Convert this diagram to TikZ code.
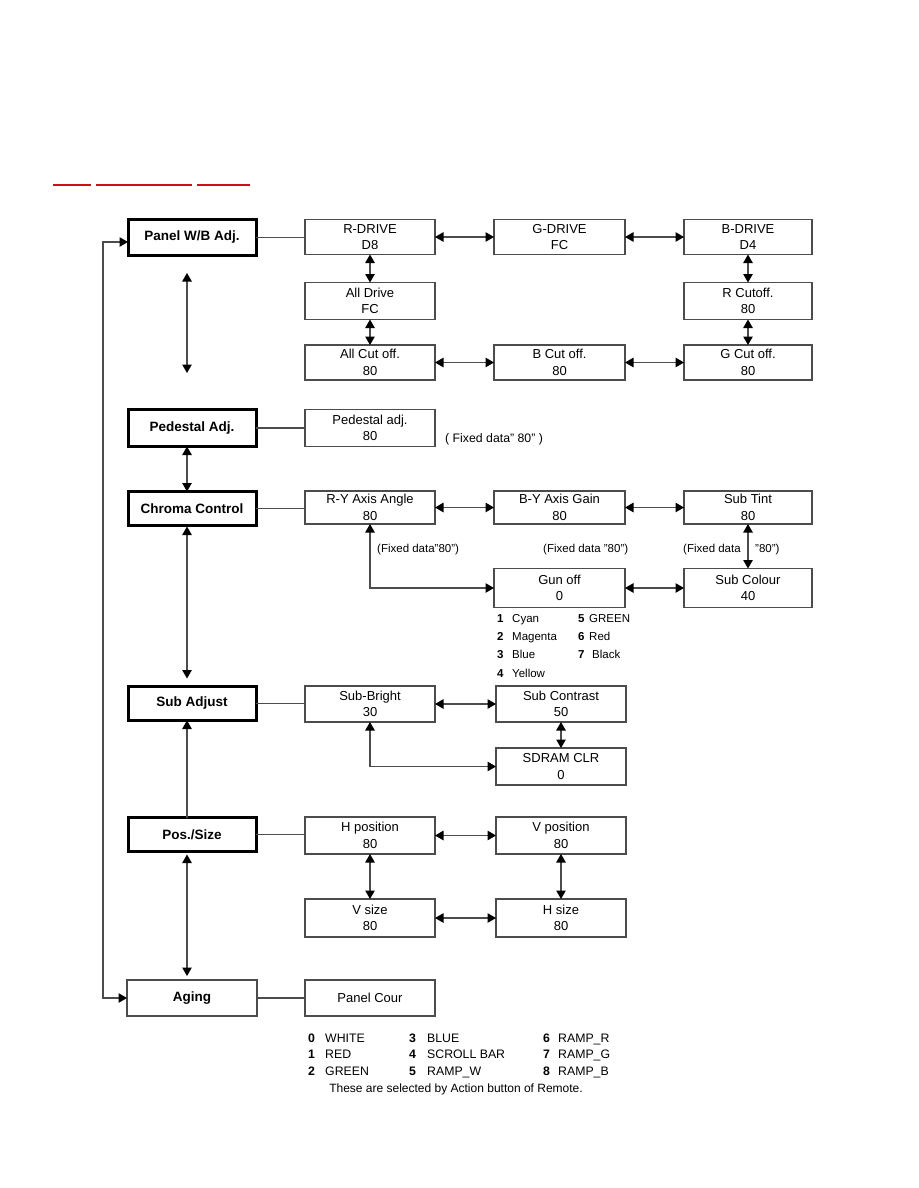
\documentclass[tikz,border=0pt]{standalone}
\usepackage{fontspec}
\setmainfont{Liberation Sans}
\usetikzlibrary{arrows.meta}
\tikzset{
  box/.style={draw=black!70, line width=1.1pt, inner sep=0pt, outer sep=0pt, align=center,
    font=\fontsize{13}{16.5}\selectfont, minimum width=130pt, minimum height=36pt},
  mbox/.style={box, draw=black, line width=3pt, font=\fontsize{13.5}{16}\selectfont\bfseries,
    minimum width=128pt},
  link/.style={draw=black!70, line width=1.1pt},
  tip/.tip={Triangle[length=8.5pt,width=9.5pt,color=black]},
  darr/.style={link, tip-tip},
  sarr/.style={link, -tip},
  note/.style={anchor=base west, inner sep=0pt, font=\fontsize{11.5}{13}\selectfont},
  lst/.style={anchor=base west, inner sep=0pt, font=\fontsize{11.5}{13}\selectfont},
  lstn/.style={lst, font=\fontsize{11.5}{13}\selectfont\bfseries},
  leg/.style={anchor=base west, inner sep=0pt, font=\fontsize{12.3}{14}\selectfont},
  legn/.style={leg, font=\fontsize{12.3}{14}\selectfont\bfseries},
  redline/.style={draw={rgb,255:red,200;green,20;blue,20}, line width=1.3pt}
}
\begin{document}
\begin{tikzpicture}[x=1pt,y=-1pt]
\fill[white] (0,0) rectangle (918,1188);
\useasboundingbox (0,0) rectangle (918,1188);

% red underlines
\coordinate (u1a) at (53,185); \coordinate (u1b) at (91,185);
\coordinate (u2a) at (96,185); \coordinate (u2b) at (192,185);
\coordinate (u3a) at (197,185); \coordinate (u3b) at (250,185);
\draw[redline] (u1a) -- (u1b);
\draw[redline] (u2a) -- (u2b);
\draw[redline] (u3a) -- (u3b);

% ---- Panel W/B
\node[mbox, minimum height=36pt] (panel) at (192,237.5) {Panel W/B Adj.};
\node[box, minimum height=35pt] (rdrive) at (370,237) {R-DRIVE\\D8};
\node[box, minimum height=35pt, minimum width=131pt] (gdrive) at (559.5,237) {G-DRIVE\\FC};
\node[box, minimum height=35pt, minimum width=128pt] (bdrive) at (748,237) {B-DRIVE\\D4};
\node[box, minimum height=37pt] (alldrive) at (370,301) {All Drive\\FC};
\node[box, minimum height=37pt, minimum width=128pt] (rcut) at (748,301) {R Cutoff.\\80};
\node[box, minimum height=35pt] (allcut) at (370,362.5) {All Cut off.\\80};
\node[box, minimum height=35pt, minimum width=131pt] (bcut) at (559.5,362.5) {B Cut off.\\80};
\node[box, minimum height=35pt, minimum width=128pt] (gcut) at (748,362.5) {G Cut off.\\80};

\draw[link] (panel.east) -- (panel.east -| rdrive.west);
\draw[darr] (rdrive) -- (gdrive);
\draw[darr] (gdrive) -- (bdrive);
\draw[darr] (rdrive) -- (alldrive);
\draw[darr] (alldrive) -- (allcut);
\draw[darr] (bdrive) -- (rcut);
\draw[darr] (rcut) -- (gcut);
\draw[darr] (allcut) -- (bcut);
\draw[darr] (bcut) -- (gcut);

\coordinate (f1) at (187,273); \coordinate (f2) at (187,373);
\draw[darr] (f1) -- (f2);

% ---- Pedestal
\node[mbox, minimum height=37pt] (ped) at (192,428) {Pedestal Adj.};
\node[box, minimum height=37pt] (pedadj) at (370,428) {Pedestal adj.\\80};
\draw[link] (ped.east) -- (ped.east -| pedadj.west);
\node[note, font=\fontsize{12.3}{14}\selectfont] (fix0) at (445,442.5) {( Fixed data" 80" )};

% ---- Chroma
\node[mbox, minimum height=34pt] (chroma) at (192,508.5) {Chroma Control};
\node[box, minimum height=33pt] (ry) at (370,507.5) {R-Y Axis Angle\\80};
\node[box, minimum height=33pt, minimum width=131pt] (by) at (559.5,507.5) {B-Y Axis Gain\\80};
\node[box, minimum height=33pt, minimum width=128pt] (tint) at (748,507.5) {Sub Tint\\80};
\node[box, minimum height=39pt, minimum width=131pt] (gun) at (559.5,588) {Gun off\\0};
\node[box, minimum height=39pt, minimum width=128pt] (colour) at (748,588) {Sub Colour\\40};
\draw[link] (chroma.east) -- (chroma.east -| ry.west);
\draw[darr] (ry) -- (by);
\draw[darr] (by) -- (tint);
\draw[darr] (tint) -- (colour);
\draw[darr] (gun) -- (colour);
\draw[darr] (ry.south) |- (gun.west);
\draw[darr] ([xshift=-5pt]ped.south) -- ([xshift=-5pt]chroma.north);

\node[note] (fix1) at (377,552) {(Fixed data"80")};
\node[note] (fix2) at (543,552) {(Fixed data "80")};
\node[note] (fix3) at (683,552) {(Fixed data};
\node[note] (fix4) at (755,552) {"80")};

\node[lstn] (g1n) at (497,622) {1}; \node[lst] (g1) at (512,622) {Cyan};
\node[lstn] (g2n) at (497,640) {2}; \node[lst] (g2) at (512,640) {Magenta};
\node[lstn] (g3n) at (497,658) {3}; \node[lst] (g3) at (512,658) {Blue};
\node[lstn] (g4n) at (497,677) {4}; \node[lst] (g4) at (512,677) {Yellow};
\node[lstn] (g5n) at (578,622) {5}; \node[lst] (g5) at (589,622) {GREEN};
\node[lstn] (g6n) at (578,640) {6}; \node[lst] (g6) at (589,640) {Red};
\node[lstn] (g7n) at (578,658) {7}; \node[lst] (g7) at (592,658) {Black};

% ---- Sub Adjust
\node[mbox, minimum height=34pt] (subadj) at (192,703.5) {Sub Adjust};
\node[box, minimum height=36pt] (bright) at (370,704) {Sub-Bright\\30};
\node[box, minimum height=36pt] (contrast) at (561,704) {Sub Contrast\\50};
\node[box, minimum height=37pt] (sdram) at (561,766.5) {SDRAM CLR\\0};
\draw[link] (subadj.east) -- (subadj.east -| bright.west);
\draw[darr] (bright) -- (contrast);
\draw[darr] (contrast) -- (sdram);
\draw[darr] (bright.south) |- (sdram.west);
\draw[darr, shorten <=1pt, shorten >=8pt] ([xshift=-5pt]chroma.south) -- ([xshift=-5pt]subadj.north);

% ---- Pos./Size
\node[mbox, minimum height=34pt] (pos) at (192,834.5) {Pos./Size};
\node[box, minimum height=37pt] (hpos) at (370,835.5) {H position\\80};
\node[box, minimum height=37pt] (vpos) at (561,835.5) {V position\\80};
\node[box, minimum height=38pt] (vsize) at (370,918) {V size\\80};
\node[box, minimum height=38pt] (hsize) at (561,918) {H size\\80};
\draw[link] (pos.east) -- (pos.east -| hpos.west);
\draw[darr] (hpos) -- (vpos);
\draw[darr] (hpos) -- (vsize);
\draw[darr] (vpos) -- (hsize);
\draw[darr] (vsize) -- (hsize);
\draw[sarr] ([xshift=-5pt]pos.north) -- ([xshift=-5pt]subadj.south);

% ---- Aging
\node[box, minimum height=36pt, font=\fontsize{13.5}{16}\selectfont\bfseries] (aging) at (192,998) {Aging};
\node[box, minimum height=36pt] (cour) at (370,998) {Panel Cour};
\draw[link] (aging.east) -- (aging.east -| cour.west);
\draw[darr, shorten <=3pt, shorten >=4pt] ([xshift=-5pt]pos.south) -- ([xshift=-5pt]aging.north);

\coordinate (loopx) at (103,0);
\draw[darr] ([yshift=-4.5pt]panel.west) -| (loopx |- aging.west) -- (aging.west);

% ---- legend
\node[legn] (l0n) at (308,1042) {0}; \node[leg] (l0) at (325,1042) {WHITE};
\node[legn] (l1n) at (308,1058.5) {1}; \node[leg] (l1) at (325,1058.5) {RED};
\node[legn] (l2n) at (308,1075) {2}; \node[leg] (l2) at (325,1075) {GREEN};
\node[legn] (l3n) at (409,1042) {3}; \node[leg] (l3) at (427,1042) {BLUE};
\node[legn] (l4n) at (409,1058.5) {4}; \node[leg] (l4) at (427,1058.5) {SCROLL BAR};
\node[legn] (l5n) at (409,1075) {5}; \node[leg] (l5) at (427,1075) {RAMP\_W};
\node[legn] (l6n) at (543,1042) {6}; \node[leg] (l6) at (558,1042) {RAMP\_R};
\node[legn] (l7n) at (543,1058.5) {7}; \node[leg] (l7) at (558,1058.5) {RAMP\_G};
\node[legn] (l8n) at (543,1075) {8}; \node[leg] (l8) at (558,1075) {RAMP\_B};
\node[inner sep=0pt, font=\fontsize{12}{14}\selectfont] (legtxt) at (456,1089) {These are selected by Action button of Remote.};
\end{tikzpicture}
\end{document}
